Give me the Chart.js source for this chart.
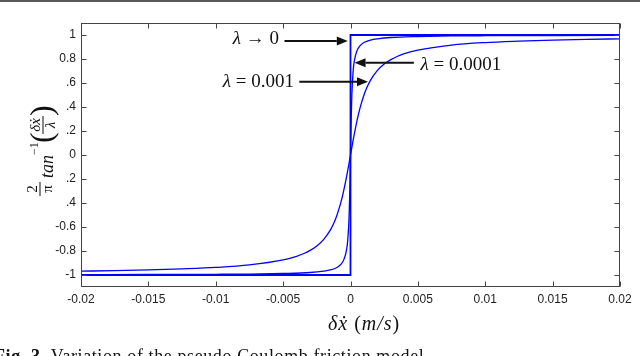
<!DOCTYPE html>
<html>
<head>
<meta charset="utf-8">
<script src="https://cdn.jsdelivr.net/npm/chart.js@4.4.0/dist/chart.umd.min.js"></script>
<style>
html, body { margin: 0; padding: 0; background: #fff; }
#wrap { width: 640px; height: 356px; position: relative; }
</style>
</head>
<body>
<div id="wrap"><canvas id="chart"></canvas></div>
<script>
// axis ticks
const xTicks = [-0.02, -0.015, -0.01, -0.005, 0, 0.005, 0.01, 0.015, 0.02];
const xTickLabels = ['-0.02', '-0.015', '-0.01', '-0.005', '0', '0.005', '0.01', '0.015', '0.02'];
const yTicks = [1, 0.8, 0.6, 0.4, 0.2, 0, -0.2, -0.4, -0.6, -0.8, -1];
const yTickLabels = ['1', '0.8', '0.6', '0.4', '0.2', '0', '-0.2', '-0.4', '-0.6', '-0.8', '-1'];

// lambda -> 0 (ideal step)
const stepX = [-0.02, 0, 0, 0.02];
const stepY = [-1, -1, 1, 1];

// lambda = 0.0001
const lamSmallX = [-0.02, -0.015, -0.01, -0.0075, -0.005, -0.003, -0.002, -0.0015, -0.001, -0.0007, -0.0005, -0.0003, -0.0002, -0.0001, -0.00005,
    0, 0.00005, 0.0001, 0.0002, 0.0003, 0.0005, 0.0007, 0.001, 0.0015, 0.002, 0.003, 0.005, 0.0075, 0.01, 0.015, 0.02];
const lamSmallY = [-0.997, -0.996, -0.994, -0.992, -0.987, -0.979, -0.968, -0.958, -0.937, -0.91, -0.874, -0.795, -0.705, -0.5, -0.295,
    0, 0.295, 0.5, 0.705, 0.795, 0.874, 0.91, 0.937, 0.958, 0.968, 0.979, 0.987, 0.992, 0.994, 0.996, 0.997];

// lambda = 0.001
const lamBigX = [-0.02, -0.0175, -0.015, -0.0125, -0.01, -0.0075, -0.005, -0.004, -0.0035, -0.003, -0.0025, -0.002, -0.0015, -0.0012, -0.001, -0.0007, -0.0005, -0.0002,
    0, 0.0002, 0.0005, 0.0007, 0.001, 0.0012, 0.0015, 0.002, 0.0025, 0.003, 0.0035, 0.004, 0.005, 0.0075, 0.01, 0.0125, 0.015, 0.0175, 0.02];
const lamBigY = [-0.968, -0.964, -0.958, -0.949, -0.937, -0.916, -0.874, -0.844, -0.823, -0.795, -0.758, -0.705, -0.626, -0.558, -0.5, -0.389, -0.295, -0.126,
    0, 0.126, 0.295, 0.389, 0.5, 0.558, 0.626, 0.705, 0.758, 0.795, 0.823, 0.844, 0.874, 0.916, 0.937, 0.949, 0.958, 0.964, 0.968];

const SERIF = '"Liberation Serif", "DejaVu Serif", serif';
const SANS = '"Liberation Sans", Arial, sans-serif';

function toPoints(xs, ys) {
    return xs.map((v, i) => ({ x: v, y: ys[i] }));
}

// draw text made of differently styled pieces
function richText(ctx, parts, x, y, align) {
    let total = 0;
    parts.forEach(p => { ctx.font = p[1]; total += ctx.measureText(p[0]).width; });
    let cx = align === 'right' ? x - total : x;
    ctx.textAlign = 'left';
    parts.forEach(p => {
        ctx.font = p[1];
        ctx.fillText(p[0], cx, y);
        cx += ctx.measureText(p[0]).width;
    });
}

function arrow(ctx, x0, y0, x1, y1) {
    const ang = Math.atan2(y1 - y0, x1 - x0);
    const len = 11, half = 4.5;
    ctx.beginPath();
    ctx.moveTo(x0, y0);
    ctx.lineTo(x1 - Math.cos(ang) * len, y1 - Math.sin(ang) * len);
    ctx.stroke();
    ctx.beginPath();
    ctx.moveTo(x1, y1);
    ctx.lineTo(x1 - Math.cos(ang) * len - Math.sin(ang) * half, y1 - Math.sin(ang) * len + Math.cos(ang) * half);
    ctx.lineTo(x1 - Math.cos(ang) * len + Math.sin(ang) * half, y1 - Math.sin(ang) * len - Math.cos(ang) * half);
    ctx.closePath();
    ctx.fill();
}

const decor = {
    id: 'decor',
    afterDraw(chart) {
        const { ctx, chartArea: a, scales: { x, y } } = chart;
        ctx.save();

        // page rule at the very top
        ctx.fillStyle = '#5a5a5a';
        ctx.fillRect(0, 0, 640, 2);

        // box + inward ticks
        ctx.strokeStyle = '#444';
        ctx.lineWidth = 1;
        const L = Math.round(a.left) + 0.5, R = Math.round(a.right) - 0.5;
        const T = Math.round(a.top) + 0.5, B = Math.round(a.bottom) - 0.5;
        ctx.strokeRect(L, T, R - L, B - T);
        ctx.beginPath();
        xTicks.forEach(v => {
            const px = Math.round(x.getPixelForValue(v)) + 0.5;
            ctx.moveTo(px, B); ctx.lineTo(px, B - 5);
            ctx.moveTo(px, T); ctx.lineTo(px, T + 5);
        });
        yTicks.forEach(v => {
            const py = Math.round(y.getPixelForValue(v)) + 0.5;
            ctx.moveTo(L, py); ctx.lineTo(L + 5, py);
            ctx.moveTo(R, py); ctx.lineTo(R - 5, py);
        });
        ctx.stroke();

        // annotations
        ctx.strokeStyle = '#111';
        ctx.fillStyle = '#111';
        ctx.lineWidth = 2;
        ctx.textBaseline = 'middle';
        const px = v => x.getPixelForValue(v), py = v => y.getPixelForValue(v);

        arrow(ctx, px(-0.0049), py(0.95), px(-0.0002), py(0.95));
        richText(ctx, [['λ', 'italic 19px ' + SERIF], [' → 0', '19px ' + SERIF]], px(-0.0053), py(0.965), 'right');

        arrow(ctx, px(0.0047), py(0.768), px(0.0003), py(0.768));
        richText(ctx, [['λ', 'italic 19px ' + SERIF], [' = 0.0001', '19px ' + SERIF]], px(0.0052), py(0.75), 'left');

        arrow(ctx, px(-0.0038), py(0.61), px(0.0013), py(0.61));
        richText(ctx, [['λ', 'italic 19px ' + SERIF], [' = 0.001', '19px ' + SERIF]], px(-0.0042), py(0.61), 'right');

        // x axis title
        ctx.fillStyle = '#111';
        ctx.textBaseline = 'alphabetic';
        ctx.letterSpacing = '1px';
        richText(ctx, [['δẋ', 'italic 20px ' + SERIF], [' (', '20px ' + SERIF], ['m/s', 'italic 20px ' + SERIF], [')', '20px ' + SERIF]], 328, 330, 'left');
        ctx.letterSpacing = '0px';

        // y axis title, drawn over the tick labels like the source figure
        ctx.fillStyle = '#fff';
        ctx.fillRect(18, 68, 48, 148);
        ctx.fillStyle = '#111';
        ctx.save();
        ctx.rotate(-Math.PI / 2);
        ctx.textAlign = 'center';
        ctx.font = '15px ' + SERIF;
        ctx.fillText('2', -189, 37);
        ctx.fillRect(-196, 39.5, 14, 1);
        ctx.fillText('π', -189, 52);
        ctx.textAlign = 'left';
        ctx.font = 'italic 18px ' + SERIF;
        ctx.fillText('tan', -178, 53);
        ctx.font = '12px ' + SERIF;
        ctx.fillText('−1', -155, 38);
        ctx.font = '32px ' + SERIF;
        ctx.fillText('(', -143, 52);
        ctx.textAlign = 'center';
        ctx.font = 'italic 15px ' + SERIF;
        ctx.fillText('δẋ', -125, 40);
        ctx.fillRect(-134, 42.5, 18, 1);
        ctx.fillText('λ', -125, 55);
        ctx.textAlign = 'left';
        ctx.font = '32px ' + SERIF;
        ctx.fillText(')', -116, 52);
        ctx.restore();

        // caption, cut by the bottom edge
        ctx.fillStyle = '#111';
        ctx.letterSpacing = '0.6px';
        richText(ctx, [['Fig. 3.', 'bold 18px ' + SERIF], [' Variation of the pseudo Coulomb friction model', '18px ' + SERIF]], -6, 362, 'left');
        ctx.letterSpacing = '0px';

        ctx.restore();
    }
};

new Chart(document.getElementById('chart'), {
    type: 'line',
    data: {
        datasets: [
            {
                label: 'λ → 0',
                data: toPoints(stepX, stepY),
                borderColor: '#0000ff',
                borderWidth: 1.8,
                pointRadius: 0,
                fill: false
            },
            {
                label: 'λ = 0.0001',
                data: toPoints(lamSmallX, lamSmallY),
                borderColor: '#0000ff',
                borderWidth: 1.3,
                pointRadius: 0,
                cubicInterpolationMode: 'monotone',
                fill: false
            },
            {
                label: 'λ = 0.001',
                data: toPoints(lamBigX, lamBigY),
                borderColor: '#0000ff',
                borderWidth: 1.3,
                pointRadius: 0,
                cubicInterpolationMode: 'monotone',
                fill: false
            }
        ]
    },
    options: {
        responsive: true,
        maintainAspectRatio: false,
        animation: false,
        layout: {
            padding: { top: 23, right: 20, left: 0, bottom: 0 }
        },
        plugins: {
            legend: { display: false },
            tooltip: { enabled: false }
        },
        scales: {
            x: {
                type: 'linear',
                min: -0.02,
                max: 0.02,
                afterBuildTicks: scale => { scale.ticks = xTicks.map(v => ({ value: v })); },
                afterFit: scale => { scale.height = 69; },
                grid: { display: false, drawTicks: false },
                border: { display: false },
                ticks: {
                    autoSkip: false,
                    maxRotation: 0,
                    padding: 5,
                    color: '#222',
                    font: { family: SANS, size: 12 },
                    callback: (v, i) => xTickLabels[i]
                }
            },
            y: {
                min: -1.1,
                max: 1.1,
                afterBuildTicks: scale => { scale.ticks = yTicks.map(v => ({ value: v })); },
                afterFit: scale => { scale.width = 81; },
                grid: { display: false, drawTicks: false },
                border: { display: false },
                ticks: {
                    autoSkip: false,
                    padding: 5,
                    color: '#222',
                    font: { family: SANS, size: 12 },
                    callback: (v, i) => yTickLabels[i]
                }
            }
        }
    },
    plugins: [decor]
});
</script>
</body>
</html>
